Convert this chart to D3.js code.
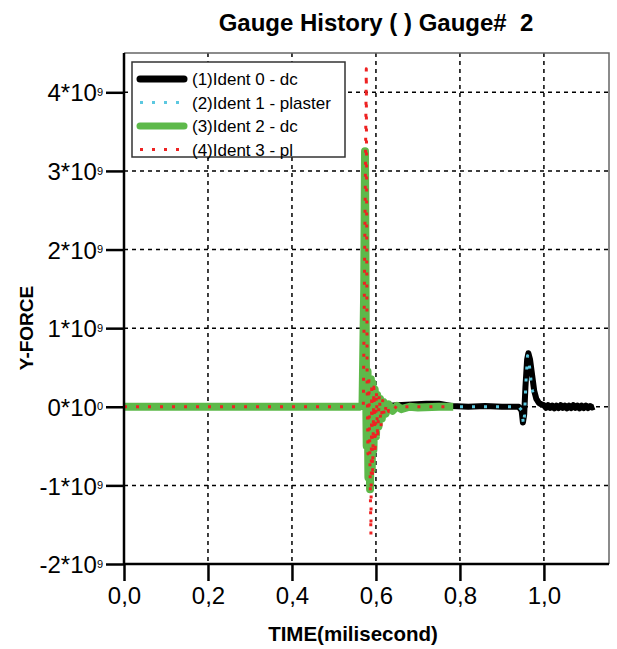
<!DOCTYPE html>
<html>
<head>
<meta charset="utf-8">
<script src="https://cdn.jsdelivr.net/npm/d3@7"></script>
<style>
  body { margin: 0; background: #fff; }
  svg { font-family: Arial, "Liberation Sans", sans-serif; }
</style>
</head>
<body>
<div id="chart"></div>
<script>
// values are in units of 1e9 (Y-FORCE) vs time in milliseconds
const seriesNames = ["(1)Ident 0 - dc", "(2)Ident 1 - plaster", "(3)Ident 2 - dc", "(4)Ident 3 - pl"];

const ident0_t = [0, 0.2, 0.4, 0.56, 0.6, 0.65, 0.72, 0.75, 0.78, 0.82, 0.86, 0.9, 0.94, 0.947, 0.950, 0.953, 0.956, 0.960, 0.963, 0.967, 0.972, 0.977, 0.982, 0.988, 0.994, 1.0,
    1.005, 1.01, 1.015, 1.02, 1.025, 1.03, 1.035, 1.04, 1.045, 1.05, 1.055, 1.06, 1.065, 1.07, 1.075, 1.08, 1.085, 1.09, 1.095, 1.10, 1.105, 1.11, 1.115, 1.12];
const ident0_v = [0, 0, 0, 0, 0, 0.02, 0.04, 0.04, 0.01, 0.0, 0.01, 0.0, 0.0, -0.05, -0.2, -0.1, 0.25, 0.6, 0.68, 0.6, 0.4, 0.2, 0.1, 0.05, 0.03, 0.02,
    -0.015, 0.02, -0.015, 0.015, -0.02, 0.015, -0.015, 0.02, -0.015, 0.015, -0.02, 0.015, -0.015, 0.02, -0.015, 0.015, -0.02, 0.015, -0.015, 0.015, -0.015, 0.01, -0.01, 0.0];

const ident1_t = [0, 0.2, 0.4, 0.6, 0.78, 0.82, 0.86, 0.9, 0.94, 0.948, 0.951, 0.954, 0.957, 0.961, 0.965, 0.969, 0.973, 0.977, 0.98];
const ident1_v = [0, 0, 0, 0, 0, 0, 0, 0, 0, -0.05, -0.22, -0.1, 0.3, 0.65, 0.55, 0.35, 0.2, 0.12, 0.08];

const ident2_t = [0, 0.1, 0.2, 0.3, 0.4, 0.5, 0.56, 0.568, 0.572, 0.574, 0.576, 0.578, 0.580, 0.582, 0.584, 0.586, 0.588, 0.590, 0.592, 0.594, 0.597, 0.600, 0.603, 0.606, 0.610, 0.614, 0.618, 0.623, 0.63, 0.64, 0.65, 0.66, 0.68, 0.7, 0.75, 0.784];
const ident2_v = [0, 0, 0, 0, 0, 0, 0, 0.02, 1.5, 3.25, 0.6, -0.5, 0.45, -0.9, 0.3, -1.05, 0.35, -0.8, 0.3, -0.55, 0.22, -0.38, 0.15, -0.25, 0.1, -0.15, 0.06, -0.09, 0.03, -0.05, 0.01, -0.03, 0, -0.01, 0, 0];

const ident3_t = [0, 0.1, 0.2, 0.3, 0.4, 0.5, 0.56, 0.570, 0.577, 0.579, 0.581, 0.583, 0.588, 0.590, 0.592, 0.595, 0.598, 0.601, 0.604, 0.608, 0.612, 0.616, 0.62, 0.625, 0.63, 0.64, 0.65, 0.66, 0.7, 0.75, 0.784];
const ident3_v = [0, 0, 0, 0, 0, 0, 0, 0.02, 4.3, 0.3, -0.6, 0.4, -1.63, 0.3, -0.9, 0.25, -0.6, 0.2, -0.4, 0.15, -0.25, 0.08, -0.12, 0.04, -0.06, 0.02, -0.02, 0, 0, 0, 0];

const xTicks = [0, 0.2, 0.4, 0.6, 0.8, 1.0];
const yTicks = [-2, -1, 0, 1, 2, 3, 4];

const W = 617, H = 649;
const margin = { top: 53, right: 8, bottom: 85, left: 124 };
const width = W - margin.left - margin.right;
const height = H - margin.top - margin.bottom;

const svg = d3.select("#chart").append("svg")
    .attr("width", W)
    .attr("height", H);

const g = svg.append("g")
    .attr("transform", `translate(${margin.left},${margin.top})`);

const x = d3.scaleLinear().domain([0, 1.155]).range([0, width]);
const y = d3.scaleLinear().domain([-2, 4.5]).range([height, 0]);

// grid
g.append("g")
    .selectAll("line")
    .data(xTicks.filter(d => d > 0))
    .enter().append("line")
    .attr("x1", d => x(d)).attr("x2", d => x(d))
    .attr("y1", 0).attr("y2", height)
    .attr("stroke", "#000")
    .attr("stroke-width", 1.5)
    .attr("stroke-dasharray", "4,4");

g.append("g")
    .selectAll("line")
    .data(yTicks.filter(d => d > -2))
    .enter().append("line")
    .attr("x1", 0).attr("x2", width)
    .attr("y1", d => y(d)).attr("y2", d => y(d))
    .attr("stroke", "#000")
    .attr("stroke-width", 1.5)
    .attr("stroke-dasharray", "4,4");

// frame top/right
g.append("path")
    .attr("d", `M0,0H${width}V${height}`)
    .attr("fill", "none")
    .attr("stroke", "#666")
    .attr("stroke-width", 1.5);

// series
const mk = (ts, vs) => ts.map((t, i) => [t, vs[i]]);
const line = d3.line().x(d => x(d[0])).y(d => y(d[1]));

const series = [
    { data: mk(ident0_t, ident0_v), color: "#000", w: 6, dash: null },
    { data: mk(ident1_t, ident1_v), color: "#5cc8e0", w: 3, dash: "3,9" },
    { data: mk(ident2_t, ident2_v), color: "#5db94a", w: 8, dash: null },
    { data: mk(ident3_t, ident3_v), color: "#ee2222", w: 3, dash: "3,9" }
];

series.forEach(s => {
    g.append("path")
        .datum(s.data)
        .attr("fill", "none")
        .attr("stroke", s.color)
        .attr("stroke-width", s.w)
        .attr("stroke-linejoin", "round")
        .attr("stroke-dasharray", s.dash)
        .attr("d", line);
});

// axes
const xAxis = g.append("g")
    .attr("transform", `translate(0,${height})`)
    .call(d3.axisBottom(x).tickValues(xTicks).tickSizeInner(17).tickSizeOuter(0).tickPadding(6)
        .tickFormat(d => d3.format(".1f")(d).replace(".", ",")));
xAxis.select(".domain").attr("stroke-width", 2.5).attr("d", `M0,0H${width}`);
xAxis.selectAll(".tick line").attr("stroke-width", 2.5);
xAxis.selectAll("text").style("font-size", "24px").attr("fill", "#000");

const yAxis = g.append("g")
    .call(d3.axisLeft(y).tickValues(yTicks).tickSizeInner(18).tickSizeOuter(0).tickPadding(4).tickFormat(""));
yAxis.select(".domain").attr("stroke-width", 2.5).attr("d", `M0,${height}V0`);
yAxis.selectAll(".tick line").attr("stroke-width", 2.5);
yAxis.selectAll(".tick").append("text")
    .attr("x", -21)
    .attr("dy", "0.36em")
    .attr("text-anchor", "end")
    .attr("fill", "#000")
    .style("font-size", "24px")
    .each(function (d) {
        const t = d3.select(this);
        t.append("tspan").text(d + "*10");
        t.append("tspan").attr("dy", "-0.5em").style("font-size", "11px").text(d === 0 ? "0" : "9");
    });

// titles
svg.append("text")
    .attr("x", 376)
    .attr("y", 31)
    .attr("text-anchor", "middle")
    .style("font-size", "24px")
    .style("font-weight", "bold")
    .style("white-space", "pre")
    .attr("xml:space", "preserve")
    .text("Gauge History ( ) Gauge#  2");

svg.append("text")
    .attr("x", 353)
    .attr("y", 641)
    .attr("text-anchor", "middle")
    .style("font-size", "20.5px")
    .style("font-weight", "bold")
    .text("TIME(milisecond)");

svg.append("text")
    .attr("transform", "rotate(-90)")
    .attr("x", -328)
    .attr("y", 33)
    .attr("text-anchor", "middle")
    .style("font-size", "19px")
    .style("font-weight", "bold")
    .text("Y-FORCE");

// legend
const lg = svg.append("g").attr("transform", "translate(132,62)");
lg.append("rect")
    .attr("width", 213).attr("height", 95)
    .attr("fill", "#fff")
    .attr("stroke", "#333")
    .attr("stroke-width", 1.5);

seriesNames.forEach((name, i) => {
    const s = series[i];
    const yy = 17 + i * 23.5;
    lg.append("line")
        .attr("x1", 8).attr("x2", 52)
        .attr("y1", yy).attr("y2", yy)
        .attr("stroke", s.color)
        .attr("stroke-width", s.dash ? 3 : 7)
        .attr("stroke-linecap", s.dash ? "butt" : "round")
        .attr("stroke-dasharray", s.dash);
    lg.append("text")
        .attr("x", 60).attr("y", yy)
        .attr("dy", "0.36em")
        .style("font-size", "17px")
        .text(name);
});
</script>
</body>
</html>
